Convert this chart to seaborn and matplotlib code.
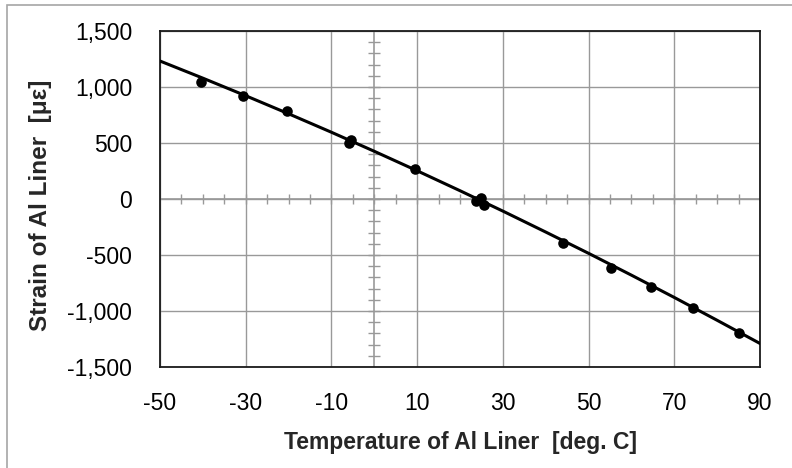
import numpy as np
import pandas as pd
import matplotlib
matplotlib.use('Agg')
import matplotlib.pyplot as plt
import seaborn as sns
from matplotlib.patches import Rectangle
from matplotlib.ticker import FuncFormatter

# measured points (temperature, strain)
temp = [-40.5, -30.6, -20.3, -6.0, -5.4, 9.5, 23.8, 25.0, 25.7, 44.1, 55.2, 64.5, 74.4, 85.0]
strain = [1048, 922, 786, 500, 525, 265, -20, 5, -55, -396, -613, -783, -976, -1194]

# trend line
trend_t = [-50, -40, -30, -20, -10, 0, 10, 20, 30, 40, 50, 60, 70, 80, 90]
trend_s = [1232, 1079, 922, 761, 596, 426, 252, 74, -108, -295, -485, -680, -879, -1083, -1290]

x_ticks = [-50, -30, -10, 10, 30, 50, 70, 90]
y_ticks = [-1500, -1000, -500, 0, 500, 1000, 1500]


def thousands(v, pos):
    return f'{int(v):,}'


sns.set_style('white')
plt.rcParams['font.family'] = ['Liberation Sans', 'DejaVu Sans']
plt.rcParams['axes.unicode_minus'] = False

dpi = 100
fig = plt.figure(figsize=(792 / dpi, 468 / dpi), dpi=dpi)
fig.patch.set_facecolor('white')
ax = fig.add_axes([160 / 792, 1 - 367 / 468, 600 / 792, 336 / 468])

df_pts = pd.DataFrame({'t': temp, 's': strain})
df_fit = pd.DataFrame({'t': trend_t, 's': trend_s})

grid_c = '#999999'

# gridlines and the crossing axes with small ticks
for xv in x_ticks:
    ax.axvline(xv, color=grid_c, lw=1.0, zorder=1)
for yv in y_ticks:
    ax.axhline(yv, color=grid_c, lw=1.0, zorder=1)
ax.axvline(0, color=grid_c, lw=1.2, zorder=1)
ax.axhline(0, color=grid_c, lw=1.2, zorder=1)

xm = np.arange(-45, 90, 5)
ym = np.arange(-1400, 1500, 100)
ax.plot(xm, np.zeros_like(xm), linestyle='None', marker='|', markersize=7,
        markeredgewidth=1.0, color=grid_c, zorder=1)
ax.plot(np.zeros_like(ym), ym, linestyle='None', marker='_', markersize=9,
        markeredgewidth=1.0, color=grid_c, zorder=1)

sns.lineplot(data=df_fit, x='t', y='s', color='black', linewidth=2.2, ax=ax, zorder=3)
sns.scatterplot(data=df_pts, x='t', y='s', color='black', s=58, edgecolor='black',
                linewidth=0, ax=ax, zorder=4)

ax.set_xlim(-50, 90)
ax.set_ylim(-1500, 1500)
ax.set_xticks(x_ticks)
ax.set_yticks(y_ticks)
ax.yaxis.set_major_formatter(FuncFormatter(thousands))
ax.tick_params(axis='both', length=0, labelsize=16.5, colors='black')
ax.tick_params(axis='y', pad=20)
ax.tick_params(axis='x', pad=18)
ax.set_xlabel('')
ax.set_ylabel('')

for sp in ax.spines.values():
    sp.set_visible(True)
    sp.set_color('#1a1a1a')
    sp.set_linewidth(1.3)

fig.text(460 / 792, 1 - 443 / 468, 'Temperature of Al Liner  [deg. C]', ha='center', va='center',
         fontsize=16.5, fontweight='bold')
fig.text(41 / 792, 1 - 205 / 468, 'Strain of Al Liner  [\u03bc\u03b5]', ha='center', va='center',
         rotation=90, fontsize=17.5, fontweight='bold')

# outer chart border
fig.patches.append(Rectangle((7 / 792, -0.05), 1.1, 1 - 5 / 468 + 0.05, transform=fig.transFigure,
                             fill=False, edgecolor='#a6a6a6', linewidth=1.2))

fig.savefig('out.png', dpi=dpi)
